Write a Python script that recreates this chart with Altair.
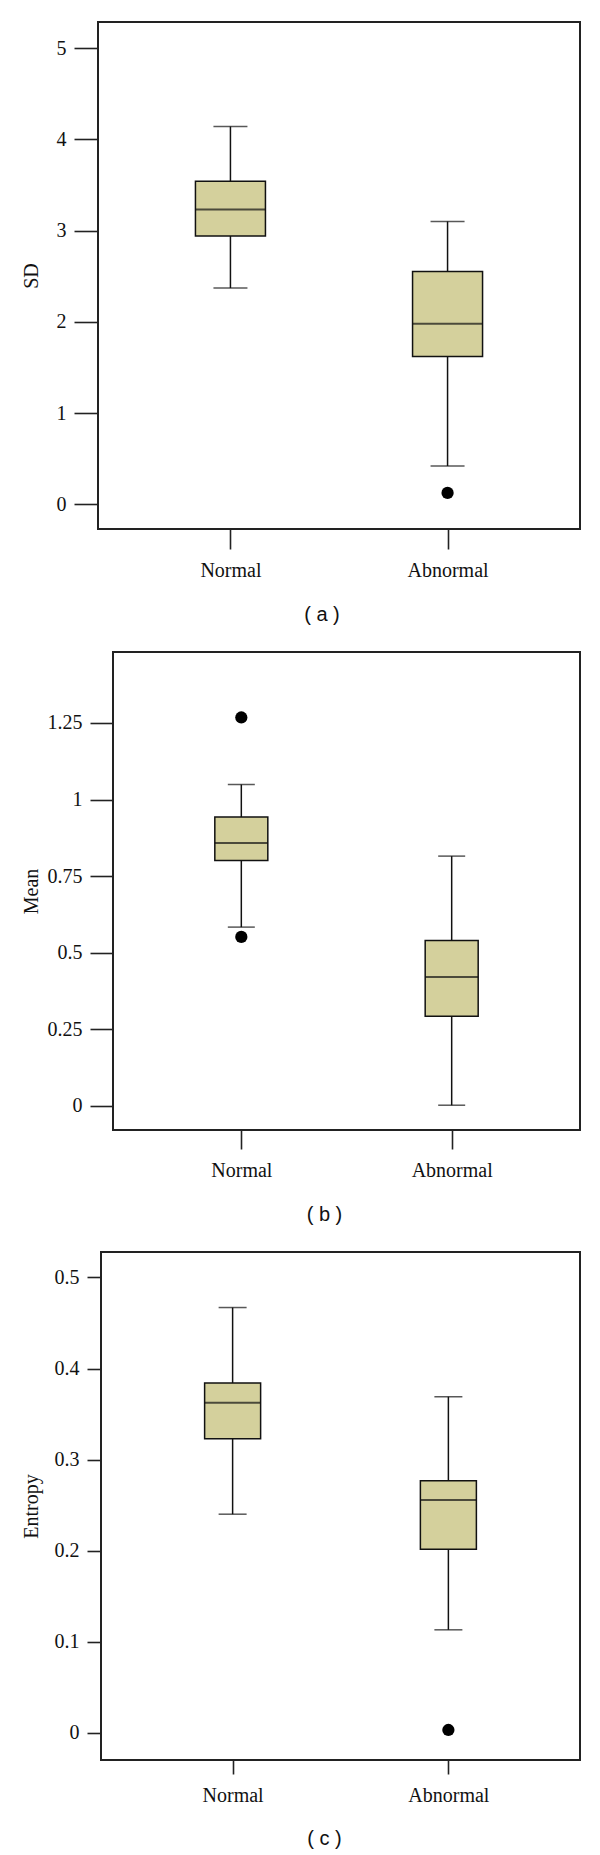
import altair as alt
import pandas as pd

groups = ["Normal", "Abnormal"]

# Panel (a): SD
sd_low = [2.37, 0.42]
sd_q1 = [2.94, 1.62]
sd_med = [3.23, 1.98]
sd_q3 = [3.54, 2.55]
sd_high = [4.14, 3.10]
sd_out_group = ["Abnormal"]
sd_out_val = [0.125]

# Panel (b): Mean
mean_low = [0.583, 0.001]
mean_q1 = [0.801, 0.292]
mean_med = [0.858, 0.420]
mean_q3 = [0.943, 0.539]
mean_high = [1.049, 0.815]
mean_out_group = ["Normal", "Normal"]
mean_out_val = [1.268, 0.551]

# Panel (c): Entropy
ent_low = [0.240, 0.113]
ent_q1 = [0.323, 0.2015]
ent_med = [0.3625, 0.2556]
ent_q3 = [0.384, 0.2766]
ent_high = [0.467, 0.369]
ent_out_group = ["Abnormal"]
ent_out_val = [0.003]

sd_ticks = [0, 1, 2, 3, 4, 5]
mean_ticks = [0, 0.25, 0.5, 0.75, 1, 1.25]
ent_ticks = [0, 0.1, 0.2, 0.3, 0.4, 0.5]

BOX_FILL = "#D4D09C"
SERIF = "Liberation Serif"
SANS = "Liberation Sans"


def panel(ylabel, low, q1, med, q3, high, out_g, out_v, domain, ticks,
          w, h, box_w, cap_w, ytick, xtick, title_x, caption, cap_dx, cap_off):
    df = pd.DataFrame({"group": groups, "low": low, "q1": q1, "med": med,
                       "q3": q3, "high": high})
    odf = pd.DataFrame({"group": out_g, "val": out_v})
    xs = alt.Scale(type="point", domain=groups, padding=0.61)
    ys = alt.Scale(domain=domain, nice=False, zero=False)
    xax = alt.Axis(title=None, labelAngle=0, tickSize=xtick, labelPadding=11,
                   labelFont=SERIF, labelFontSize=20, labelColor="#111",
                   tickColor="#222", tickWidth=1.6, domain=False, grid=False)
    yax = alt.Axis(title=ylabel, values=ticks, tickSize=ytick, labelPadding=8,
                   labelExpr="'' + datum.value", labelFont=SERIF,
                   labelFontSize=20, labelColor="#111", tickColor="#222",
                   tickWidth=1.6, domain=False, grid=False,
                   titleFont=SERIF, titleFontSize=20, titleFontWeight="normal",
                   titleColor="#111", titleAngle=270, titleX=title_x,
                   titleY=h / 2, titleAlign="center",
                   titleBaseline="alphabetic")
    base = alt.Chart(df)
    x = alt.X("group:N", scale=xs, axis=xax, sort=groups)
    whisk = base.mark_rule(color="#111", strokeWidth=1.5).encode(
        x=x, y=alt.Y("low:Q", scale=ys, axis=yax), y2="high:Q")
    cap_lo = base.mark_tick(color="#111", size=cap_w, thickness=1.5).encode(
        x=x, y="low:Q")
    cap_hi = base.mark_tick(color="#111", size=cap_w, thickness=1.5).encode(
        x=x, y="high:Q")
    box = base.mark_bar(fill=BOX_FILL, stroke="#111", strokeWidth=1.5,
                        size=box_w).encode(x=x, y="q1:Q", y2="q3:Q")
    medl = base.mark_tick(color="#111", size=box_w, thickness=2).encode(
        x=x, y="med:Q")
    outs = alt.Chart(odf).mark_circle(color="black", size=150, opacity=1).encode(
        x=alt.X("group:N", scale=xs, sort=groups), y=alt.Y("val:Q", scale=ys))
    return alt.layer(whisk, cap_lo, cap_hi, box, medl, outs).properties(
        width=w, height=h,
        title=alt.TitleParams(caption, orient="bottom", anchor="middle",
                              frame="group", dx=cap_dx, offset=cap_off,
                              font=SANS, fontSize=20, fontWeight="normal",
                              color="#111"))


def spacer(w):
    return alt.Chart(pd.DataFrame({"s": [0]})).mark_point(opacity=0).properties(
        width=w, height=10, view=alt.ViewBackground(stroke="transparent"))


# frame left edges: (a) 97, (b) 112, (c) 100 ; axis-title baseline at x=36
pa = panel("SD", sd_low, sd_q1, sd_med, sd_q3, sd_high, sd_out_group,
           sd_out_val, [-0.27, 5.285], sd_ticks, 482, 507, 70, 34, 24, 20,
           36 - 97, "( a )", -17, 25)
pb = panel("Mean", mean_low, mean_q1, mean_med, mean_q3, mean_high,
           mean_out_group, mean_out_val, [-0.08, 1.482], mean_ticks, 467, 478,
           53, 27, 23, 19, 36 - 112, "( b )", -22, 25)
pc = panel("Entropy", ent_low, ent_q1, ent_med, ent_q3, ent_high,
           ent_out_group, ent_out_val, [-0.030, 0.528], ent_ticks, 479, 508,
           56, 28, 14, 14, 36 - 100, "( c )", -16, 24)

row_b = alt.hconcat(spacer(15), pb, spacing=0, bounds="flush")
row_c = alt.hconcat(spacer(3), pc, spacing=0, bounds="flush")

chart = alt.vconcat(pa, row_b, row_c, spacing=25).properties(
    padding={"top": 13, "left": 12, "right": 0, "bottom": 0}
).configure_view(stroke="#222", strokeWidth=2)

chart.save("out.html", embed_options={"renderer": "svg", "actions": False})
